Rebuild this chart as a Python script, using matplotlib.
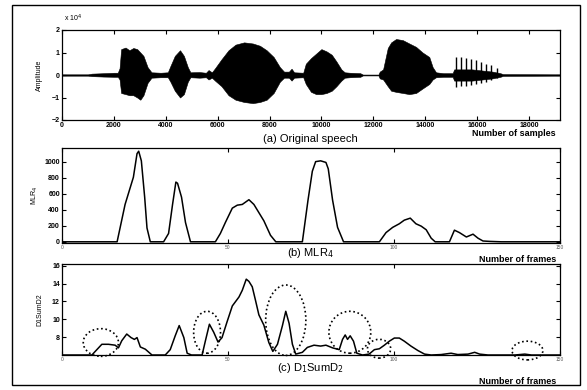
import matplotlib
matplotlib.use("Agg")
import matplotlib.pyplot as plt
from matplotlib.patches import Ellipse, Rectangle

plt.rcParams['font.family'] = ['Liberation Sans', 'DejaVu Sans']

# ---------------- data ----------------
# (a) speech waveform envelope (samples, amplitude in units of 1e4)
env_x = [0, 1000, 1150, 1600, 2000, 2150, 2220, 2280, 2450, 2600, 2750, 2900, 3020, 3140,
         3300, 3450, 3800, 4080, 4180, 4350, 4550, 4700, 4850, 4950, 5300, 5550, 5650,
         5780, 5900, 6150, 6420, 6690, 7020, 7360, 7630, 7890, 8160, 8400, 8560, 8750,
         8850, 8950, 9300, 9400, 9600, 9800, 10000, 10200, 10400, 10580, 10770, 10900,
         11100, 11500, 11600, 12200, 12250, 12380, 12560, 12690, 12880, 13140, 13390,
         13650, 13900, 14160, 14290, 14420, 14700, 15060, 15120, 15800, 16200, 16600,
         16900, 17000, 19200]
env_hi = [0.03, 0.03, 0.06, 0.08, 0.10, 0.10, 0.3, 1.15, 1.22, 1.1, 1.2, 1.15, 1.0, 0.85,
          0.35, 0.12, 0.1, 0.12, 0.4, 0.85, 1.1, 0.85, 0.35, 0.12, 0.13, 0.1, 0.22,
          0.12, 0.3, 0.7, 1.1, 1.35, 1.45, 1.4, 1.3, 1.1, 0.8, 0.35, 0.15, 0.15,
          0.28, 0.12, 0.1, 0.5, 0.75, 0.95, 1.15, 1.05, 0.9, 0.6, 0.25, 0.12,
          0.1, 0.08, 0.02, 0.02, 0.15, 0.25, 1.2, 1.45, 1.6, 1.55, 1.4,
          1.25, 1.0, 0.8, 0.35, 0.12, 0.08, 0.08, 0.25, 0.25, 0.2, 0.15,
          0.08, 0.04, 0.03]
env_lo = [-0.03, -0.03, -0.05, -0.07, -0.08, -0.08, -0.2, -0.8, -0.85, -0.9, -0.9, -1.0, -1.1, -0.9,
          -0.35, -0.12, -0.1, -0.1, -0.3, -0.7, -1.0, -0.85, -0.3, -0.1, -0.12, -0.1, -0.2,
          -0.12, -0.25, -0.5, -0.9, -1.1, -1.2, -1.25, -1.2, -1.1, -0.8, -0.3, -0.12, -0.12,
          -0.25, -0.12, -0.1, -0.4, -0.75, -0.85, -0.85, -0.8, -0.7, -0.5, -0.25, -0.12,
          -0.1, -0.08, -0.02, -0.02, -0.15, -0.2, -0.5, -0.7, -0.75, -0.8, -0.85,
          -0.8, -0.6, -0.4, -0.2, -0.1, -0.08, -0.08, -0.25, -0.25, -0.2, -0.15,
          -0.08, -0.04, -0.03]
spike_x = [15180, 15380, 15570, 15760, 15950, 16140, 16340, 16530, 16780]
spike_hi = [0.8, 0.8, 0.75, 0.7, 0.65, 0.6, 0.5, 0.45, 0.3]
spike_lo = [-0.55, -0.5, -0.5, -0.45, -0.4, -0.35, -0.3, -0.2, -0.15]

# (b) MLR4 per frame
mlr_x = [0, 16.6, 19.0, 21.5, 22.6, 23.1, 23.9, 24.9, 25.6, 26.6, 30.6, 32.1, 33.3, 34.3,
         34.8, 36.0, 37.2, 38.7, 46.2, 47.7, 49.2, 51.3, 52.8, 54.3, 56.3, 57.8, 60.8,
         62.8, 64.4, 72.4, 74.1, 75.4, 76.4, 77.9, 79.5, 80.2, 81.5, 83.0, 84.8, 95.6,
         97.6, 99.6, 101.6, 103.1, 104.9, 106.6, 108.2, 109.7, 111.2, 112.4, 116.7,
         118.2, 119.7, 121.8, 123.8, 125.3, 126.8, 128.8, 132.3, 150]
mlr_y = [0, 0, 466, 805, 1100, 1130, 1010, 557, 172, 0, 0, 104, 466, 745,
         730, 557, 240, 0, 0, 104, 240, 420, 457, 466, 525, 466, 262,
         81, 0, 0, 520, 880, 1000, 1010, 990, 910, 520, 180, 0, 0,
         115, 180, 225, 270, 295, 225, 195, 150, 45, 0, 0,
         145, 115, 60, 95, 45, 10, 5, 0, 0]

# (c) D1SumD2 per frame
d_x = [0, 9.0, 10.5, 12.0, 14.0, 16.0, 17.0, 18.0, 19.5, 20.8, 21.8, 22.6, 23.6, 25.1,
       27.1, 31.1, 32.6, 34.1, 35.3, 36.7, 37.7, 39.0, 42.2, 43.2, 44.4, 45.7, 47.0,
       48.2, 49.7, 51.3, 53.3, 54.3, 55.5, 56.3, 57.3, 58.3, 59.3, 60.8, 62.3, 63.5,
       64.9, 66.4, 67.4, 68.4, 69.4, 70.4, 72.4, 73.9, 75.9, 77.9, 79.5, 81.5, 83.5,
       84.5, 85.3, 86.0, 86.8, 87.8, 88.8, 90.5, 92.5, 94.1, 95.6, 97.1, 98.6, 100.1,
       101.6, 103.1, 105.1, 107.2, 109.2, 111.2, 114.2, 117.2, 119.2, 122.3, 124.3,
       125.8, 128.3, 136.4, 139.4, 141.4, 150]
d_y = [6.0, 6.0, 6.6, 7.2, 7.2, 7.1, 6.8, 7.6, 8.35, 7.95, 7.75, 7.95, 6.9, 6.65,
       6.0, 6.0, 6.6, 8.15, 9.3, 7.95, 6.2, 6.0, 6.0, 7.6, 9.45, 8.55, 7.45,
       7.95, 9.7, 11.5, 12.5, 13.25, 14.5, 14.25, 13.65, 12.1, 10.5, 9.35, 7.4, 6.4,
       7.2, 9.3, 10.9, 9.55, 7.2, 6.1, 6.3, 6.85, 7.1, 7.0, 7.1, 6.8, 6.6,
       7.75, 8.25, 7.75, 8.15, 7.55, 6.2, 6.0, 6.1, 6.6, 6.7, 7.1, 7.55, 7.9,
       7.9, 7.55, 7.0, 6.5, 6.1, 6.0, 6.05, 6.2, 6.05, 6.1, 6.3,
       6.1, 6.0, 6.0, 6.1, 6.0, 6.0]

# dotted ellipses (frame centre, value centre, width in frames, height in value units)
ell_cx = [11.7, 43.7, 67.4, 86.7, 95.5, 140.2]
ell_cy = [7.4, 8.55, 9.9, 8.55, 6.7, 6.5]
ell_w = [10.6, 8.1, 12.1, 12.6, 7.0, 9.3]
ell_h = [3.1, 4.7, 7.9, 4.7, 2.1, 2.1]

amp_ticks = [-2, -1, 0, 1, 2]
sample_ticks = [0, 2000, 4000, 6000, 8000, 10000, 12000, 14000, 16000, 18000]
mlr_ticks = [0, 200, 400, 600, 800, 1000]
frame_ticks = [0, 50, 100, 150]
d_ticks = [8, 10, 12, 14, 16]

# ---------------- figure ----------------
W, H = 587, 390
fig = plt.figure(figsize=(W / 100, H / 100), dpi=100)


def box(l, t, r, b):
    return [l / W, 1 - b / H, (r - l) / W, (b - t) / H]


def style(ax):
    ax.tick_params(direction='in', length=3, width=0.8, top=True, right=True,
                   labelsize=5, pad=1.5)
    for s in ax.spines.values():
        s.set_linewidth(0.9)


# (a)
ax1 = fig.add_axes(box(62, 30, 560, 120))
ax1.fill_between(env_x, env_lo, env_hi, color='black', lw=0.4)
ax1.vlines(spike_x, spike_lo, spike_hi, color='black', lw=1.0)
ax1.set_xlim(0, 19200)
ax1.set_ylim(-2, 2)
ax1.set_xticks(sample_ticks)
ax1.set_yticks(amp_ticks)
style(ax1)
for lab in ax1.get_xticklabels() + ax1.get_yticklabels():
    lab.set_fontweight('bold')
ax1.set_ylabel('Amplitude', fontsize=5, labelpad=6)
fig.text(64 / W, 1 - 18 / H, r'x 10$^4$', fontsize=5, ha='left', va='center')
fig.text(310 / W, 1 - 139 / H, '(a) Original speech', fontsize=8, ha='center', va='center')
fig.text(556 / W, 1 - 133 / H, 'Number of samples', fontsize=6.5, ha='right', va='center',
         fontweight='bold')

# (b)
ax2 = fig.add_axes(box(62, 148, 560, 243))
ax2.plot(mlr_x, mlr_y, color='black', lw=1.1)
ax2.set_xlim(0, 150)
ax2.set_ylim(-15, 1170)
ax2.set_xticks(frame_ticks)
ax2.set_yticks(mlr_ticks)
style(ax2)
ax2.tick_params(axis='x', labelsize=3.5, labelcolor='#555555')
for lab in ax2.get_yticklabels():
    lab.set_fontweight('bold')
ax2.set_ylabel(r'MLR$_4$', fontsize=5, labelpad=3)
fig.text(310 / W, 1 - 253 / H, r'(b) MLR$_4$', fontsize=8, ha='center', va='center')
fig.text(556 / W, 1 - 259 / H, 'Number of frames', fontsize=6.5, ha='right', va='center',
         fontweight='bold')

# (c)
ax3 = fig.add_axes(box(62, 264, 560, 355))
ax3.plot(d_x, d_y, color='black', lw=1.1)
for cx, cy, w, h in zip(ell_cx, ell_cy, ell_w, ell_h):
    ax3.add_patch(Ellipse((cx, cy), w, h, fill=False, ec='black', lw=1.2,
                          ls=(0, (1, 1.6)), clip_on=False))
ax3.set_xlim(0, 150)
ax3.set_ylim(6, 16.2)
ax3.set_xticks(frame_ticks)
ax3.set_yticks(d_ticks)
style(ax3)
ax3.tick_params(axis='x', labelsize=3.5, labelcolor='#555555')
for lab in ax3.get_yticklabels():
    lab.set_fontweight('bold')
ax3.set_ylabel('D1SumD2', fontsize=5, labelpad=6)
fig.text(310 / W, 1 - 368 / H, r'(c) D$_1$SumD$_2$', fontsize=8, ha='center', va='center')
fig.text(556 / W, 1 - 381 / H, 'Number of frames', fontsize=6.5, ha='right', va='center',
         fontweight='bold')

# outer frame
fig.patches.append(Rectangle((12 / W, 1 - 385 / H), (580 - 12) / W, (385 - 5) / H,
                             transform=fig.transFigure, fill=False, ec='black', lw=1.0))

fig.savefig('out.png', dpi=100)
